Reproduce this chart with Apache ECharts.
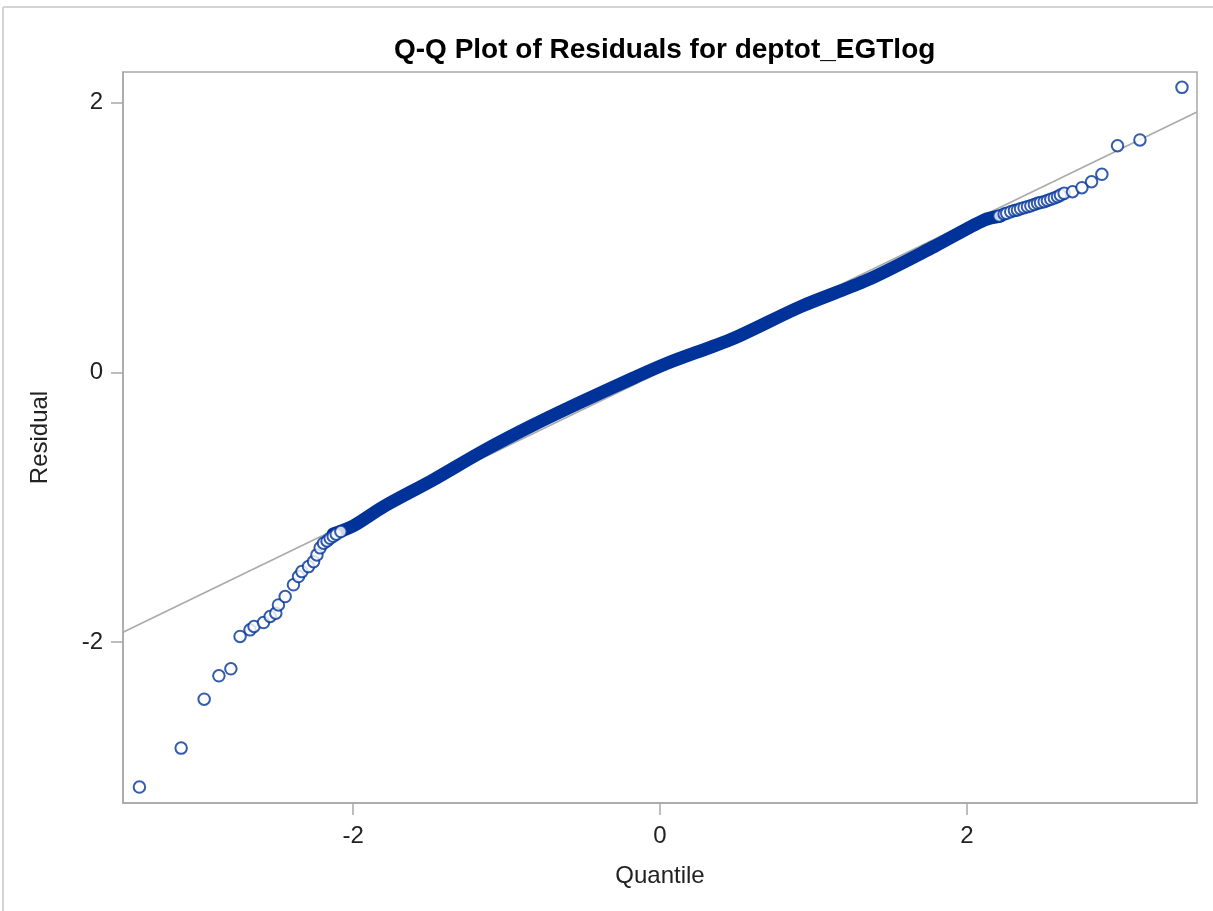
<!DOCTYPE html>
<html><head><meta charset="utf-8">
<script src="https://cdn.jsdelivr.net/npm/echarts@6/dist/echarts.min.js"></script>
<style>html,body{margin:0;padding:0;background:#fff}#c{width:1213px;height:911px}</style>
</head><body><div id="c"></div>
<script>
const titleText = 'Q-Q Plot of Residuals for deptot_EGTlog';
const xName = 'Quantile';
const yName = 'Residual';
const xTicks = [-2, 0, 2];
const yTicks = [-2, 0, 2];
const xRange = [-3.5, 3.5];
const yRange = [-3.193, 2.228];

// separately visible circles, lower tail (quantile, residual)
const lowerQ = [-3.393,-3.121,-2.971,-2.875,-2.797,-2.737,-2.672,-2.646,-2.584,-2.541,-2.504,-2.487,-2.443,-2.389,-2.356,-2.334,-2.291,-2.258,-2.236,-2.215,-2.193,-2.17,-2.15,-2.13,-2.11,-2.08];
const lowerR = [-3.075,-2.786,-2.423,-2.250,-2.198,-1.958,-1.909,-1.884,-1.855,-1.810,-1.785,-1.724,-1.662,-1.575,-1.514,-1.477,-1.440,-1.403,-1.353,-1.301,-1.266,-1.25,-1.23,-1.215,-1.20,-1.18];

// separately visible circles, upper tail
const upperQ = [2.21,2.243,2.26,2.286,2.31,2.330,2.35,2.373,2.395,2.417,2.44,2.461,2.48,2.504,2.525,2.547,2.57,2.591,2.61,2.634,2.689,2.750,2.813,2.880,2.982,3.128,3.402];
const upperR = [1.16,1.175,1.18,1.192,1.20,1.205,1.214,1.222,1.229,1.236,1.245,1.254,1.26,1.266,1.275,1.284,1.294,1.303,1.315,1.328,1.340,1.370,1.414,1.469,1.681,1.724,2.114];

// centre of the dense band of overlapping circles
const bandQ = [-2.13,-1.999,-1.804,-1.478,-1.151,-0.825,-0.499,-0.173,0.047,0.481,0.917,1.352,1.786,2.112,2.221];
const bandR = [-1.197,-1.138,-0.997,-0.797,-0.582,-0.389,-0.211,-0.041,0.068,0.254,0.488,0.686,0.933,1.130,1.16];

// reference line end points
const refQ = [-3.5, 3.5];
const refR = [-1.927, 1.931];

const zip = (a, b) => a.map((v, i) => [v, b[i]]);
const blue = '#003399';
const font = 'Liberation Sans, Arial, sans-serif';

const chart = echarts.init(document.getElementById('c'));
chart.setOption({
  animation: false,
  backgroundColor: '#fff',
  title: {
    text: titleText, left: 389, top: 31,
    textStyle: {fontFamily: font, fontSize: 28, fontWeight: 'bold', color: '#000'}
  },
  graphic: [
    {type: 'line', shape: {x1: 3, y1: 7, x2: 1213, y2: 7}, style: {stroke: '#d4d4d4', lineWidth: 2}},
    {type: 'line', shape: {x1: 3, y1: 7, x2: 3, y2: 911}, style: {stroke: '#d4d4d4', lineWidth: 2}}
  ],
  grid: {left: 123, right: 16, top: 72, bottom: 108, show: true, borderColor: '#a8a8a8', borderWidth: 1.5},
  xAxis: {
    type: 'value', min: xRange[0], max: xRange[1],
    name: xName, nameLocation: 'middle', nameGap: 61,
    nameTextStyle: {fontFamily: font, fontSize: 24, color: '#222'},
    axisLine: {show: true, onZero: false, lineStyle: {color: '#a8a8a8', width: 1.5}},
    axisTick: {show: true, length: 12, lineStyle: {color: '#a8a8a8', width: 1.5}, customValues: xTicks},
    axisLabel: {fontFamily: font, fontSize: 24, color: '#222', margin: 21, customValues: xTicks},
    splitLine: {show: false}
  },
  yAxis: {
    type: 'value', min: yRange[0], max: yRange[1],
    name: yName, nameLocation: 'middle', nameGap: 71, nameRotate: 90,
    nameTextStyle: {fontFamily: font, fontSize: 24, color: '#222'},
    axisLine: {show: true, onZero: false, lineStyle: {color: '#a8a8a8', width: 1.5}},
    axisTick: {show: true, length: 12, lineStyle: {color: '#a8a8a8', width: 1.5}, customValues: yTicks},
    axisLabel: {fontFamily: font, fontSize: 24, color: '#222', margin: 20, customValues: yTicks},
    splitLine: {show: false}
  },
  series: [
    {type: 'line', data: zip(refQ, refR), symbol: 'none', silent: true, z: 1,
     lineStyle: {color: '#aaaaaa', width: 1.6}},
    {type: 'line', data: zip(bandQ, bandR), symbol: 'none', z: 2, smooth: 0.3,
     lineStyle: {color: blue, width: 13, cap: 'round', join: 'round'}},
    {type: 'scatter', data: zip(lowerQ, lowerR).concat(zip(upperQ, upperR)), z: 3,
     symbol: 'emptyCircle', symbolSize: 11.5,
     itemStyle: {color: blue, borderColor: blue, borderWidth: 1.8}}
  ]
});
</script></body></html>
